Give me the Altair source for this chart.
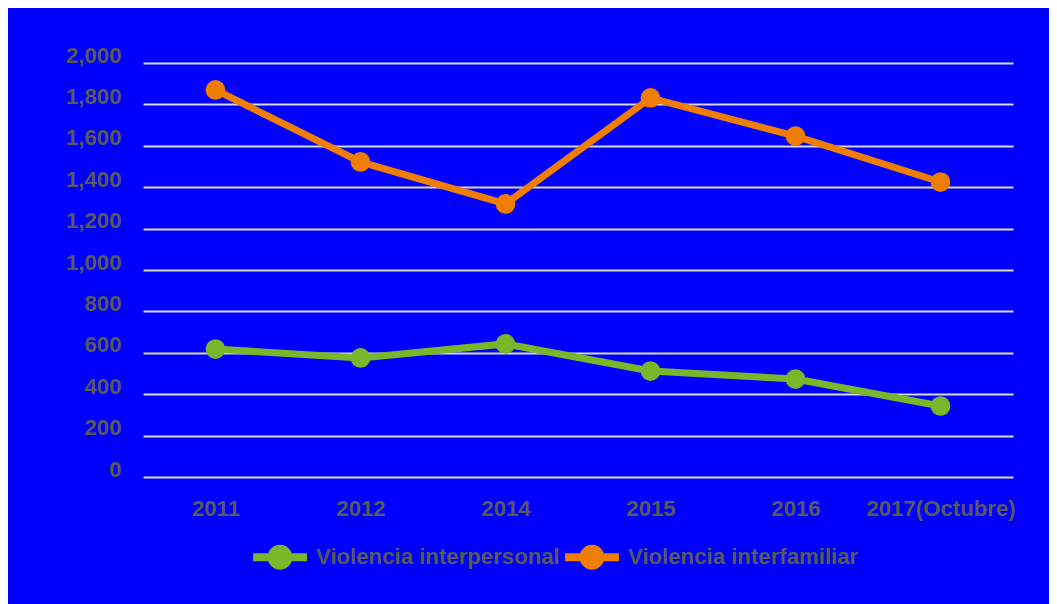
import altair as alt
import pandas as pd

years = ["2011", "2012", "2014", "2015", "2016", "2017(Octubre)"]
interpersonal = [618, 575, 643, 512, 473, 343]
interfamiliar = [1870, 1522, 1319, 1831, 1647, 1425]
series = ["Violencia interpersonal", "Violencia interfamiliar"]
colors = ["#76B82A", "#EF7D00"]
y_ticks = [0, 200, 400, 600, 800, 1000, 1200, 1400, 1600, 1800, 2000]

rows = []
for s, vals in zip(series, [interpersonal, interfamiliar]):
    for yr, v in zip(years, vals):
        rows.append({"Año": yr, "Serie": s, "Valor": v})
df = pd.DataFrame(rows)

FONT = "Liberation Sans"
GRAY = "#595959"
FS = 22.2

x = alt.X(
    "Año:N", sort=years,
    scale=alt.Scale(type="point", padding=0.5),
    axis=alt.Axis(title=None, labelAngle=0, ticks=False, domain=False, grid=False,
                  labelPadding=20, labelFontSize=FS, labelFontWeight="bold",
                  labelColor=GRAY, labelFont=FONT),
)
y = alt.Y(
    "Valor:Q",
    scale=alt.Scale(domain=[0, 2000], nice=False),
    axis=alt.Axis(values=y_ticks, format=",.0f", title=None, ticks=False, domain=False,
                  grid=True, gridColor="#D9D9D9", gridWidth=2, gridOpacity=1,
                  labelOffset=-8, labelPadding=22, labelFontSize=FS,
                  labelFontWeight="bold", labelColor=GRAY, labelFont=FONT),
)

legend_path = ("M-1,-0.15 H1 V0.15 H-1 Z "
               "M0.46,0 A0.46,0.46 0 1,1 -0.46,0 A0.46,0.46 0 1,1 0.46,0 Z")


def make_legend():
    return alt.Legend(
        title=None, orient="none", legendX=110, legendY=467, direction="horizontal",
        symbolType=legend_path, symbolSize=2916, symbolStrokeWidth=0,
        symbolOpacity=1, symbolFillColor="#76B82A",
        labelFontSize=FS, labelFont=FONT, labelFontWeight="bold", labelColor=GRAY,
        labelOffset=9, columnPadding=5, labelLimit=400, padding=0,
    )


color_scale = alt.Scale(domain=series, range=colors)

lines = alt.Chart(df).mark_line(strokeWidth=7).encode(
    x=x, y=y,
    color=alt.Color("Serie:N", scale=color_scale, legend=make_legend()),
)
points = alt.Chart(df).mark_circle(size=390, opacity=1).encode(
    x=x, y=y,
    color=alt.Color("Serie:N", scale=color_scale, legend=make_legend()),
)

chart = alt.layer(lines, points).properties(
    width=870, height=414,
    autosize=alt.AutoSizeParams(type="none"),
    padding={"left": 135, "top": 55, "right": 36, "bottom": 127},
    background="#0000FF",
).configure_view(stroke=None)

chart.save("out.html", embed_options={"renderer": "svg", "actions": False})
